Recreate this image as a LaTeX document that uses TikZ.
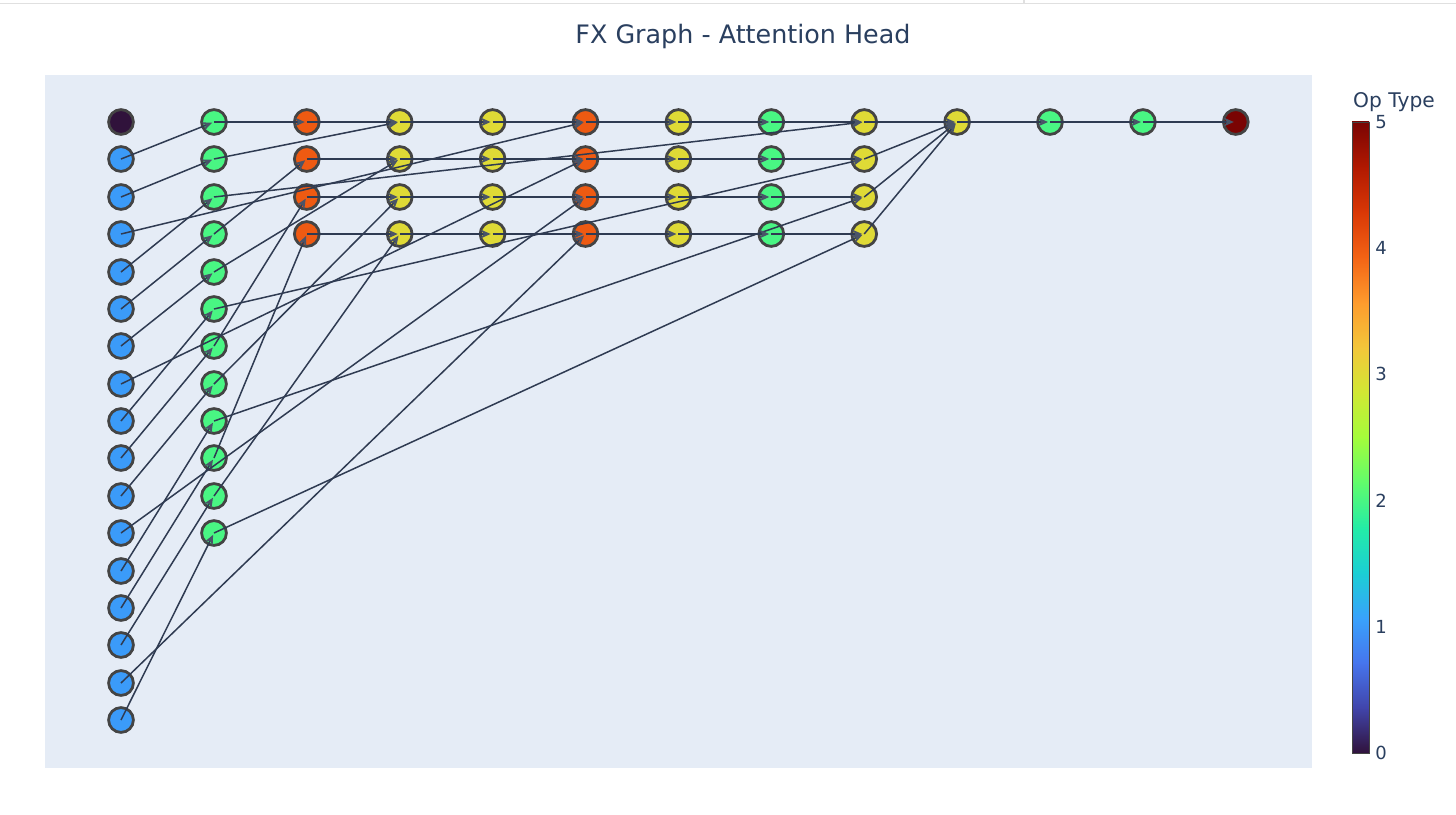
\documentclass[tikz,border=0pt]{standalone}
\usepackage{fontspec}
\setmainfont{DejaVu Sans}
\usetikzlibrary{arrows.meta,positioning,calc}

\definecolor{plotbg}{HTML}{E5ECF6}
\definecolor{fonttxt}{HTML}{2A3F5F}
\definecolor{edgecol}{HTML}{2F3B52}
\definecolor{tipcol}{HTML}{4A5468}
\definecolor{rimcol}{HTML}{444444}
\definecolor{opzero}{HTML}{30123B}
\definecolor{opone}{HTML}{3B9BF9}
\definecolor{optwo}{HTML}{49F683}
\definecolor{opthree}{HTML}{DFDA36}
\definecolor{opfour}{HTML}{EE5A12}
\definecolor{opfive}{HTML}{7A0403}
% turbo scale for the colour bar
\definecolor{tb0}{HTML}{30123B}
\definecolor{tb1}{HTML}{4145AB}
\definecolor{tb2}{HTML}{4675ED}
\definecolor{tb3}{HTML}{39A2FC}
\definecolor{tb4}{HTML}{1BCFD4}
\definecolor{tb5}{HTML}{24ECA6}
\definecolor{tb6}{HTML}{61FC6C}
\definecolor{tb7}{HTML}{A4FC3B}
\definecolor{tb8}{HTML}{D1E834}
\definecolor{tb9}{HTML}{F3C63A}
\definecolor{tb10}{HTML}{FE9B2D}
\definecolor{tb11}{HTML}{F36315}
\definecolor{tb12}{HTML}{D93806}
\definecolor{tb13}{HTML}{B11901}
\definecolor{tb14}{HTML}{7A0403}

\begin{document}
\begin{tikzpicture}[x=0.5pt,y=-0.5pt,
		op/.style={circle, draw=rimcol, line width=1.4pt, minimum size=12.4pt, inner sep=0pt},
		flow/.style={-{Stealth[length=5pt, width=4.4pt, inset=1.6pt, color=tipcol]}, draw=edgecol, line width=0.75pt, shorten >=1pt},
		label text/.style={text=fonttxt, inner sep=0pt}]
		\useasboundingbox (0,0) rectangle (1456,814);
		\fill[white] (0,0) rectangle (1456,814);
		\draw[black!12, line width=0.6pt] (0,3.5) -- (1456,3.5) (1024,0) -- (1024,3.5);
		\fill[plotbg] (45,75) rectangle (1312,768);
		\node at (743,36) [label text, font=\fontsize{12.7}{15}\selectfont] (title) {FX Graph - Attention Head};
		
		% nodes
		\node at (121,122) [op, fill=opzero] (c0r0) {};
		\foreach \j in {1,...,16}
			\node at (121,{round(122+37.375*\j)}) [op, fill=opone] (c0r\j) {};
		\foreach \j in {0,...,11}
			\node at (214,{round(122+37.375*\j)}) [op, fill=optwo] (c1r\j) {};
		\foreach \i/\col in {2/opfour,3/opthree,4/opthree,5/opfour,6/opthree,7/optwo,8/opthree} {
			\foreach \j in {0,...,3} {
				\node at ({121+92.9*\i},{round(122+37.375*\j)}) [op, fill=\col] (c\i r\j) {};
			}
		}
		\foreach \i/\col in {9/opthree,10/optwo,11/optwo,12/opfive}
			\node at ({121+92.9*\i},122) [op, fill=\col] (c\i r0) {};
		
		% edges
		\foreach \a/\b in {1/0,2/1,4/2,5/3,6/4,8/5,9/6,10/7,12/8,13/9,14/10,16/11}
			\draw[flow] (c0r\a.center) -- (c1r\b.center);
		\foreach \j/\a in {0/3,1/7,2/11,3/15}
			\draw[flow] (c0r\a.center) -- (c5r\j.center);
		\foreach \j/\a/\b/\c in {0/0/1/2,1/3/4/5,2/6/7/8,3/9/10/11} {
			\draw[flow] (c1r\a.center) -- (c2r\j.center);
			\draw[flow] (c1r\b.center) -- (c3r\j.center);
			\draw[flow] (c1r\c.center) -- (c8r\j.center);
		}
		\foreach \j in {0,...,3} {
			\foreach \i/\k in {2/3,3/4,4/5,5/6,6/7,7/8} {
				\draw[flow] (c\i r\j.center) -- (c\k r\j.center);
			}
			\draw[flow] (c8r\j.center) -- (c9r0.center);
		}
		\foreach \i/\k in {9/10,10/11,11/12}
			\draw[flow] (c\i r0.center) -- (c\k r0.center);
		
		% colour bar
		\foreach \k/\n in {0/1,1/2,2/3,3/4,4/5,5/6,6/7,7/8,8/9,9/10,10/11,11/12,12/13,13/14}
			\shade[bottom color=tb\k, top color=tb\n] (1352,{753-45.07*\k+0.3}) rectangle (1369,{753-45.07*\n-0.3});
		\draw[rimcol, line width=0.5pt] (1352,122) rectangle (1369,753);
		\node at (1394,102) [label text, font=\fontsize{10.1}{12}\selectfont] (cbtitle) {Op Type};
		\foreach \v in {0,...,5}
			\node at (1375,{753-126.2*\v}) [label text, anchor=west, font=\fontsize{9}{11}\selectfont] (tick\v) {\v};
\end{tikzpicture}
\end{document}
